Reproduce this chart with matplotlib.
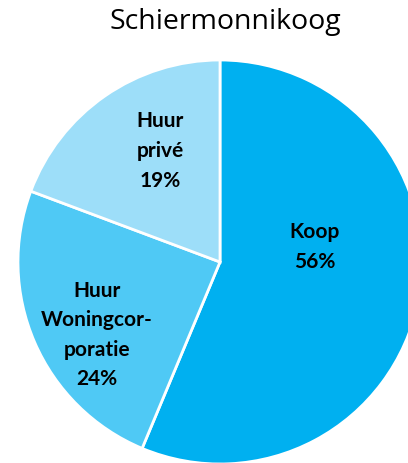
import matplotlib
matplotlib.use("Agg")
import matplotlib.pyplot as plt

categories = ["Koop", "Huur Woningcorporatie", "Huur privé"]
values = [56.3, 24.4, 19.3]
label_texts = ["Koop\n56%", "Huur\nWoningcor-\nporatie\n24%", "Huur\nprivé\n19%"]
colors = ["#00B0F0", "#4FC9F5", "#9DDEF9"]
title = "Schiermonnikoog"

W, H = 408, 464
fig = plt.figure(figsize=(W / 100, H / 100), dpi=100)
ax = fig.add_axes([0, 0, 1, 1])

cx, cy, r = 220, H - 263, 202
ax.pie(values, colors=colors, startangle=90, counterclock=False,
       center=(cx, cy), radius=r,
       wedgeprops=dict(edgecolor="white", linewidth=2))
ax.set_xlim(0, W)
ax.set_ylim(0, H)
ax.set_aspect("equal")
ax.axis("off")

label_pos = [(315, H - 247), (97, H - 335), (160, H - 151)]
for txt, (x, y) in zip(label_texts, label_pos):
    ax.text(x, y, txt, ha="center", va="center", fontsize=15,
            fontweight="bold", family="Lato", linespacing=1.6, color="black")

ax.text(225, H - 22, title, ha="center", va="center", fontsize=20.5,
        family="Open Sans", color="black")

fig.savefig("out.png", dpi=100)
